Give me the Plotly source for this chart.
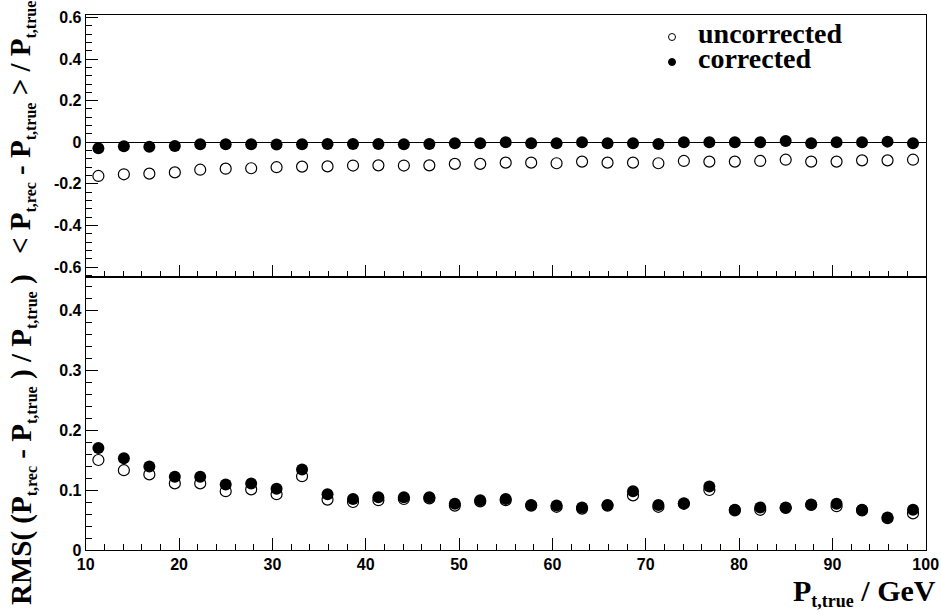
import plotly.graph_objects as go

# Bin centres of P_t,true (GeV), 33 bins between 10 and 100
pt_true = [11.36, 14.09, 16.82, 19.55, 22.27, 25.00, 27.73, 30.45, 33.18, 35.91, 38.64,
           41.36, 44.09, 46.82, 49.55, 52.27, 55.00, 57.73, 60.45, 63.18, 65.91, 68.64,
           71.36, 74.09, 76.82, 79.55, 82.27, 85.00, 87.73, 90.45, 93.18, 95.91, 98.64]

# Mean relative bias <(P_rec - P_true)/P_true>
bias_uncorrected = [-0.162, -0.154, -0.151, -0.145, -0.132, -0.127, -0.125, -0.120, -0.117,
                    -0.116, -0.112, -0.111, -0.112, -0.111, -0.104, -0.104, -0.098, -0.098,
                    -0.101, -0.093, -0.098, -0.098, -0.101, -0.090, -0.093, -0.093, -0.090,
                    -0.084, -0.093, -0.093, -0.087, -0.087, -0.084]
bias_corrected = [-0.029, -0.019, -0.022, -0.018, -0.010, -0.010, -0.010, -0.011, -0.010,
                  -0.008, -0.008, -0.008, -0.010, -0.008, -0.005, -0.005, 0.000, -0.005,
                  -0.005, 0.000, -0.005, -0.005, -0.008, 0.000, 0.000, 0.000, 0.000,
                  0.006, -0.005, 0.000, 0.000, 0.003, -0.005]

# RMS of the relative deviation
rms_uncorrected = [0.150, 0.133, 0.126, 0.111, 0.111, 0.098, 0.101, 0.093, 0.123, 0.084,
                   0.080, 0.083, 0.085, 0.086, 0.074, 0.081, 0.083, 0.074, 0.072, 0.069,
                   0.074, 0.091, 0.072, 0.077, 0.100, 0.066, 0.067, 0.070, 0.075, 0.073,
                   0.066, 0.053, 0.061]
rms_corrected = [0.170, 0.153, 0.139, 0.122, 0.122, 0.109, 0.111, 0.102, 0.134, 0.093,
                 0.085, 0.088, 0.088, 0.088, 0.077, 0.083, 0.085, 0.075, 0.074, 0.071,
                 0.075, 0.098, 0.075, 0.078, 0.106, 0.067, 0.071, 0.071, 0.076, 0.077,
                 0.067, 0.054, 0.067]

# Tick labels
x_ticks = [10, 20, 30, 40, 50, 60, 70, 80, 90, 100]
x_ticktext = ["10", "20", "30", "40", "50", "60", "70", "80", "90", "100"]
bias_ticks = [-0.6, -0.4, -0.2, 0.0, 0.2, 0.4, 0.6]
bias_ticktext = ["-0.6", "-0.4", "-0.2", "0", "0.2", "0.4", "0.6"]
rms_ticks = [0.0, 0.1, 0.2, 0.3, 0.4]
rms_ticktext = ["0", "0.1", "0.2", "0.3", "0.4"]

W, H = 941, 614
def px_x(p):
    return p / W
def px_y(p):
    return 1 - p / H

def sub(s, size):
    return f'<sub><span style="font-size:{size}px">{s}</span></sub>'

tick_font = dict(family="Liberation Sans", size=16, color="black", weight="bold")
serif_bold = dict(family="Liberation Serif", size=29, color="black", weight="bold")

open_marker = dict(symbol="circle-open", size=11, color="black", line=dict(width=1.2, color="black"))
full_marker = dict(symbol="circle", size=12, color="black", line=dict(width=0))

fig = go.Figure()
fig.add_trace(go.Scatter(x=pt_true, y=bias_uncorrected, mode="markers", marker=open_marker,
                         xaxis="x", yaxis="y", showlegend=False))
fig.add_trace(go.Scatter(x=pt_true, y=bias_corrected, mode="markers", marker=full_marker,
                         xaxis="x", yaxis="y", showlegend=False))
fig.add_trace(go.Scatter(x=pt_true, y=rms_uncorrected, mode="markers", marker=open_marker,
                         xaxis="x2", yaxis="y2", showlegend=False))
fig.add_trace(go.Scatter(x=pt_true, y=rms_corrected, mode="markers", marker=full_marker,
                         xaxis="x2", yaxis="y2", showlegend=False))

x_dom = [px_x(85.7), px_x(925.7)]
split = px_y(277)

common_x = dict(range=[10, 100], domain=x_dom, showline=True, mirror=True, linecolor="black",
                linewidth=1, ticks="inside", ticklen=12, tickcolor="black", tickwidth=1,
                tickvals=x_ticks, ticktext=x_ticktext, showgrid=False, zeroline=False,
                tickfont=tick_font, automargin=False,
                minor=dict(ticks="inside", ticklen=6, dtick=2, tick0=0, tickcolor="black",
                           tickwidth=1, showgrid=False))
common_y = dict(showline=True, mirror=True, linecolor="black", linewidth=1, ticks="inside",
                ticklen=12, tickcolor="black", tickwidth=1, showgrid=False, tickfont=tick_font,
                automargin=False)

fig.update_layout(
    width=W, height=H,
    margin=dict(l=0, r=0, t=0, b=0, autoexpand=False),
    paper_bgcolor="white", plot_bgcolor="white",
    showlegend=False,
    xaxis=dict(common_x, anchor="y", showticklabels=False),
    yaxis=dict(common_y, domain=[split, px_y(15)], range=[-0.648, 0.612], anchor="x",
               tickvals=bias_ticks, ticktext=bias_ticktext,
               zeroline=True, zerolinecolor="black", zerolinewidth=1,
               minor=dict(ticks="inside", ticklen=6, dtick=0.04, tick0=0, tickcolor="black",
                          tickwidth=1, showgrid=False)),
    xaxis2=dict(common_x, anchor="y2"),
    yaxis2=dict(common_y, domain=[px_y(550), split], range=[0, 0.455], anchor="x2",
                tickvals=rms_ticks, ticktext=rms_ticktext, zeroline=False,
                minor=dict(ticks="inside", ticklen=6, dtick=0.02, tick0=0, tickcolor="black",
                           tickwidth=1, showgrid=False)),
)

bias_title = ("&lt; P" + sub("t,rec", 16) + " - P" + sub("t,true", 16) + " &gt; / P"
              + sub("t,true", 16))
rms_title = ("RMS( (P" + sub("t,rec", 16) + " - P" + sub("t,true", 16) + " ) / P"
             + sub("t,true", 16) + " )")
x_title = "P" + sub("t,true", 18) + " / GeV"

annotations = [
    dict(text=bias_title, x=px_x(22), y=px_y(128), xref="paper", yref="paper", textangle=-90,
         xanchor="center", yanchor="middle", showarrow=False, font=serif_bold),
    dict(text=rms_title, x=px_x(22), y=px_y(440), xref="paper", yref="paper", textangle=-90,
         xanchor="center", yanchor="middle", showarrow=False, font=serif_bold),
    dict(text=x_title, x=px_x(938), y=px_y(592), xref="paper", yref="paper",
         xanchor="right", yanchor="middle", showarrow=False, font=dict(serif_bold, size=30)),
    dict(text="uncorrected", x=px_x(696), y=px_y(33), xref="paper", yref="paper",
         xanchor="left", yanchor="middle", showarrow=False, font=dict(serif_bold, size=28)),
    dict(text="corrected", x=px_x(696), y=px_y(58), xref="paper", yref="paper",
         xanchor="left", yanchor="middle", showarrow=False, font=dict(serif_bold, size=28)),
]
fig.update_layout(annotations=annotations)

# Legend symbols
fig.add_shape(type="circle", xref="paper", yref="paper", xsizemode="pixel", ysizemode="pixel",
              xanchor=px_x(672), yanchor=px_y(37), x0=-3.5, x1=3.5, y0=-3.5, y1=3.5,
              line=dict(color="black", width=1), fillcolor="rgba(0,0,0,0)")
fig.add_shape(type="circle", xref="paper", yref="paper", xsizemode="pixel", ysizemode="pixel",
              xanchor=px_x(672), yanchor=px_y(62), x0=-3.5, x1=3.5, y0=-3.5, y1=3.5,
              line=dict(color="black", width=1), fillcolor="black")

fig.write_html("out.html")
